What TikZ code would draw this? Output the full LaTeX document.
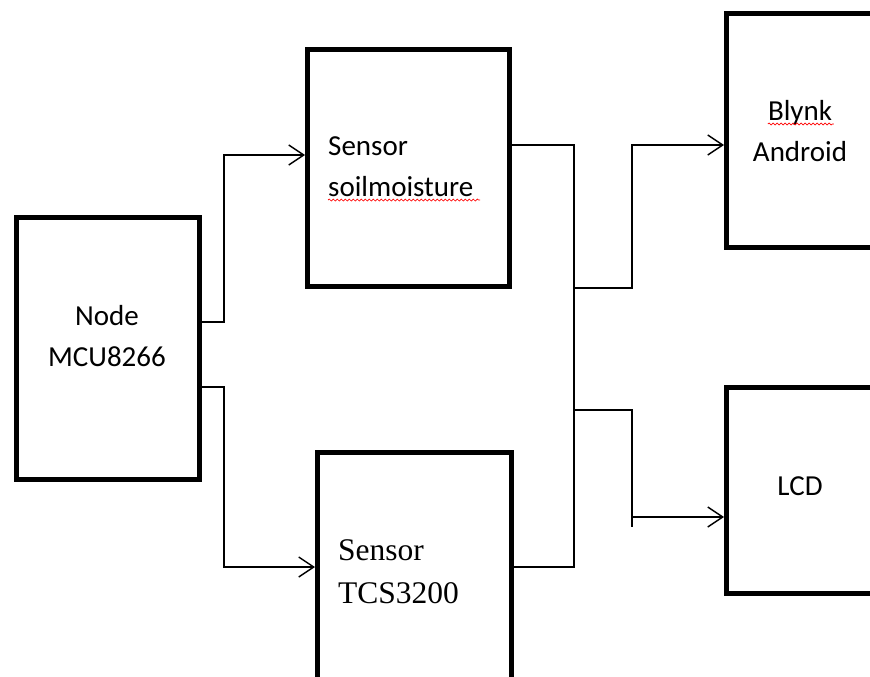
\documentclass[tikz,border=0pt]{standalone}
\usepackage{fontspec}
\setmainfont{Carlito}
\newfontfamily\tnr{Liberation Serif}
\usetikzlibrary{arrows.meta,decorations.pathmorphing}
\begin{document}
\begin{tikzpicture}[x=1pt,y=-1pt,
  blk/.style={draw,line width=5pt,inner sep=0pt,minimum width=#1},
  wire/.style={line width=1.4pt},
  arr/.style={wire,-{Straight Barb[length=15pt,width=20pt,line width=1.4pt]}},
  lbl/.style={font=\fontsize{29}{41}\selectfont,inner sep=0pt},
  tlbl/.style={font=\tnr\fontsize{31.5}{43}\selectfont,inner sep=0pt},
  spell/.style={draw=red,line width=0.7pt,decorate,decoration={snake,amplitude=1pt,segment length=4pt}}]
\clip (0,0) rectangle (870,677);
\fill[white] (0,0) rectangle (870,677);
% boxes (line centres)
\node[blk=183pt,minimum height=262pt] (mcu) at (108,348.5) {};
\node[blk=202pt,minimum height=237pt] (soil) at (408.5,168) {};
\node[blk=194pt,minimum height=260pt] (tcs) at (414.5,582.5) {};
\node[blk=180pt,minimum height=234pt] (blynk) at (816.5,130.5) {};
\node[blk=180pt,minimum height=206pt] (lcd) at (816.5,490.5) {};
% labels
\node[lbl,anchor=base] (t1) at (107,325) {Node};
\node[lbl,anchor=base] (t2) at (107,366) {MCU8266};
\node[lbl,anchor=base west] (t3) at (328,155) {Sensor};
\node[lbl,anchor=base west] (t4) at (328,196) {soilmoisture};
\node[tlbl,anchor=base west] (t5) at (338,560) {Sensor};
\node[tlbl,anchor=base west] (t6) at (338,603) {TCS3200};
\node[lbl,anchor=base] (t7) at (800,120) {Blynk};
\node[lbl,anchor=base] (t8) at (800,161) {Android};
\node[lbl,anchor=base] (t9) at (800,495) {LCD};
\draw[spell] (t4.base west) ++(0,4) -- ++(152,0);
\draw[spell] (t7.base west) ++(0,4) -- ++(66,0);
% junctions
\coordinate (j1) at (574,288);
\coordinate (j2) at (574,410);
% connectors
\draw[arr] (mcu.east |- 0,322) -| (224,155) -- (soil.west |- 0,155);
\draw[arr] (mcu.east |- 0,387) -| (224,567) -- (tcs.west |- 0,567);
\draw[wire] (soil.east |- 0,145) -| (574,567) -- (tcs.east |- 0,567);
\draw[arr] (j1) -| (632,145) -- (blynk.west |- 0,145);
\draw[wire] (j2) -| (632,527);
\draw[arr] (632,517) -- (lcd.west |- 0,517);
\end{tikzpicture}
\end{document}
